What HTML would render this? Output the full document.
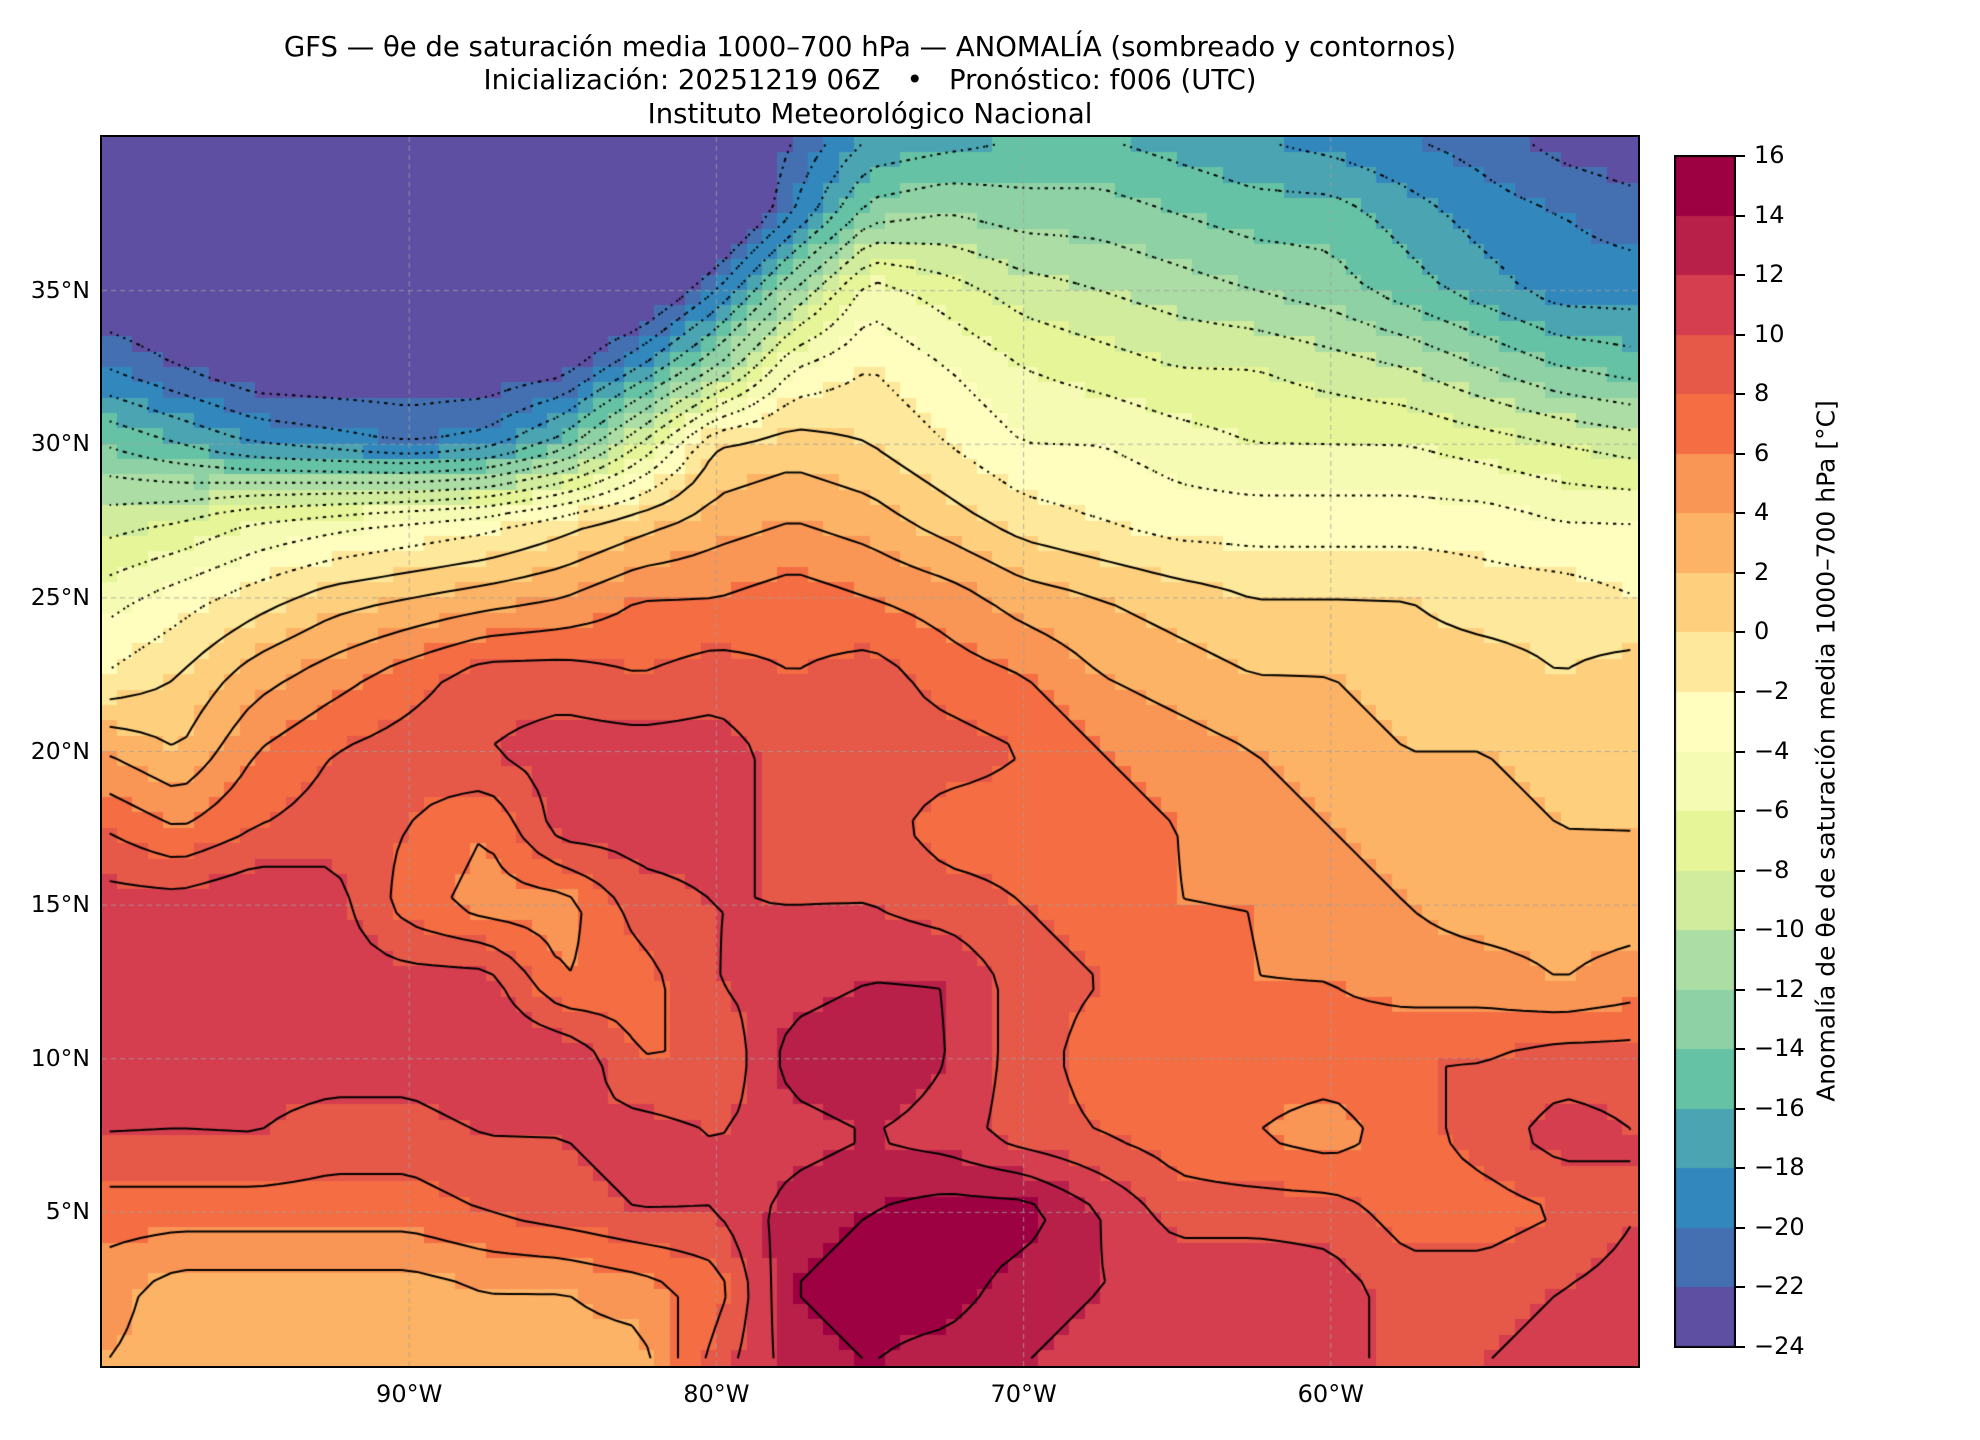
<!DOCTYPE html>
<html><head><meta charset="utf-8">
<style>
body{margin:0;background:#fff;}
#root{position:relative;width:1980px;height:1440px;background:#fff;font-family:"DejaVu Sans","Liberation Sans",sans-serif;color:#000;overflow:hidden;}
.t{position:absolute;white-space:nowrap;}
.title{left:0;width:1740px;text-align:center;font-size:27.5px;}
.yl{font-size:23.5px;text-align:right;width:84px;left:6px;}
.xl{font-size:24px;text-align:center;width:110px;top:1380px;}
.cl{font-size:24px;left:1754px;}
</style></head>
<body>
<div id="root">
<div class="t title" style="top:31px">GFS — θe de saturación media 1000–700 hPa — ANOMALÍA (sombreado y contornos)</div>
<div class="t title" style="top:64px">Inicialización: 20251219 06Z &nbsp; • &nbsp; Pronóstico: f006 (UTC)</div>
<div class="t title" style="top:98px">Instituto Meteorológico Nacional</div>
<canvas id="map" width="1536" height="1229" style="position:absolute;left:102px;top:137px;"></canvas>
<div style="position:absolute;left:101px;top:136px;width:1536px;height:1229px;border:2px solid #000;box-sizing:content-box;margin:-1px 0 0 -1px"></div>
<canvas id="cbar" width="62" height="1193" style="position:absolute;left:1674px;top:155px;"></canvas>
<div class="t" style="left:1826px;top:751px;transform:translate(-50%,-50%) rotate(-90deg);font-size:25px;">Anomalía de θe de saturación media 1000–700 hPa [°C]</div>
<div id="labels"></div>
</div>
<script>
// ---- data (2.5° grid, lat 40 -> 0 rows, lon -100 -> -50 columns) ----
const lons = [-100,-97.5,-95,-92.5,-90,-87.5,-85,-82.5,-80,-77.5,-75,-72.5,-70,-67.5,-65,-62.5,-60,-57.5,-55,-52.5,-50];
const lats = [40,37.5,35,32.5,30,27.5,25,22.5,20,17.5,15,12.5,10,7.5,5,2.5,0];
const r40 = [-27,-27,-27,-27,-27,-27,-27,-27,-27,-22,-18,-17,-16,-16,-17,-18,-19,-20,-21,-23,-24];
const r37 = [-27,-27,-27,-27,-27,-27,-27,-27,-27,-20,-13,-12,-13,-13,-14,-15,-15,-17,-19,-20,-21];
const r35 = [-24,-25,-27,-27,-27,-27,-27,-26,-20,-12,-5,-7,-9,-10,-11,-12,-13,-15,-17,-19,-19];
const r32 = [-20,-22,-24,-24,-24,-24,-23,-18,-12,-4,-2,-4,-6,-7,-8,-8,-9,-10,-12,-14,-15];
const r30 = [-14,-16,-18,-19,-20,-19,-15,-8,0,1,0,-2,-4,-4,-5,-6,-6,-6,-7,-8,-9];
const r27 = [-9,-8,-6,-5,-4,-3,-1,1,3,4,3,1,-1,-2,-3,-3,-3,-3,-3,-4,-4];
const r25 = [-5,-3,-1,1,2,3,4,6,6,7,6,5,3,2,1,0,0,0,-1,-1,-2];
const r22 = [-2,0,3,5,7,9,9,8,9,8,9,7,6,4,3,2,2,1,1,0,1];
const r20 = [4,2,6,8,9,10,11,11,11,9,9,9,8,6,5,4,3,2,2,1,0];
const r17 = [8,6,8,9,8,6,11,11,11,9,9,7,7,7,6,5,4,3,3,2,2];
const r15 = [11,11,12,11,7,5,5,9,10,10,10,9,8,7,6,6,5,4,3,3,3];
const r12 = [11,11,11,11,11,11,6,7,10,11,12,12,9,8,7,6,6,5,5,4,5];
const r10 = [11,10,11,11,11,12,12,8,8,13,14,12,9,7,7,7,7,8,8,9,9];
const r07 = [10,10,10,9,9,10,10,11,10,11,12,11,9,8,7,6,5,7,9,11,10];
const r05 = [7,7,7,7,7,8,9,10,10,13,14,15,15,12,9,9,9,7,7,8,10];
const r02 = [5,3,3,3,3,4,4,5,7,14,15,15,13,12,12,12,11,9,9,10,11];
const r00 = [4,3,3,2,2,3,3,3,9,13,14,13,12,11,12,11,10,10,10,11,12];
const grid = [r40,r37,r35,r32,r30,r27,r25,r22,r20,r17,r15,r12,r10,r07,r05,r02,r00];
const levels = [-24,-22,-20,-18,-16,-14,-12,-10,-8,-6,-4,-2,0,2,4,6,8,10,12,14,16];
const colors = ["#5e4fa2","#4470b1","#3288bd","#4ba4b1","#66c2a5","#8ed1a4","#abdda4","#d0ec9c","#e6f598","#f5fbb2","#fffebe","#fee89b","#fed07e","#fdb365","#f99555","#f46d43","#e65848","#d53e4f","#b8204a","#9e0142"];
const latTicks = [5,10,15,20,25,30,35];
const lonTicks = [-90,-80,-70,-60];

// ---- axis functions ----
const W=1536,H=1229, lon0=-100, lon1=-50, lat0=0, lat1=40;
const xOf = lon => (lon-lon0)/(lon1-lon0)*W;
const yOf = lat => (lat1-lat)/(lat1-lat0)*H;
function val(lon,lat){
  let fi=(lon-lons[0])/2.5, fj=(lats[0]-lat)/2.5;
  fi=Math.max(0,Math.min(lons.length-1.0001,fi)); fj=Math.max(0,Math.min(lats.length-1.0001,fj));
  const i=Math.floor(fi), j=Math.floor(fj), a=fi-i, b=fj-j;
  return grid[j][i]*(1-a)*(1-b)+grid[j][i+1]*a*(1-b)+grid[j+1][i]*(1-a)*b+grid[j+1][i+1]*a*b;
}
function colorOf(v){
  let k=Math.floor((v-levels[0])/2); k=Math.max(0,Math.min(colors.length-1,k)); return colors[k];
}
const ctx=document.getElementById('map').getContext('2d');
const step=0.5, nx=Math.round((lon1-lon0)/step), ny=Math.round((lat1-lat0)/step);
const F=[];
for(let j=0;j<ny;j++){F.push([]);for(let i=0;i<nx;i++){
  const lo=lon0+(i+0.5)*step, la=lat1-(j+0.5)*step; const v=val(lo,la); F[j].push(v);
  ctx.fillStyle=colorOf(v);
  const x0=Math.floor(xOf(lo-step/2)), x1=Math.ceil(xOf(lo+step/2)), y0=Math.floor(yOf(la+step/2)), y1=Math.ceil(yOf(la-step/2));
  ctx.fillRect(x0,y0,x1-x0,y1-y0);
}}
// grid lines
ctx.strokeStyle="rgba(160,160,160,0.8)";ctx.lineWidth=1;ctx.setLineDash([5,4]);
lonTicks.forEach(l=>{ctx.beginPath();ctx.moveTo(xOf(l),0);ctx.lineTo(xOf(l),H);ctx.stroke();});
latTicks.forEach(l=>{ctx.beginPath();ctx.moveTo(0,yOf(l));ctx.lineTo(W,yOf(l));ctx.stroke();});
// contours (marching squares on cell centres)
const cx=i=>xOf(lon0+(i+0.5)*step), cy=j=>yOf(lat1-(j+0.5)*step);
ctx.strokeStyle="#000";ctx.lineWidth=2;
levels.forEach(L=>{
  if(L<=-24||L>=16) return;
  ctx.setLineDash(L<0?[2,5]:[]);
  ctx.beginPath();
  for(let j=0;j<ny-1;j++)for(let i=0;i<nx-1;i++){
    const v=[F[j][i],F[j][i+1],F[j+1][i+1],F[j+1][i]];
    const p=[[cx(i),cy(j)],[cx(i+1),cy(j)],[cx(i+1),cy(j+1)],[cx(i),cy(j+1)]];
    const pts=[];
    for(let e=0;e<4;e++){const a=v[e],b=v[(e+1)%4];
      if((a<L)!==(b<L)){const t=(L-a)/(b-a);const A=p[e],B=p[(e+1)%4];pts.push([A[0]+t*(B[0]-A[0]),A[1]+t*(B[1]-A[1])]);}}
    for(let k=0;k+1<pts.length;k+=2){ctx.moveTo(pts[k][0],pts[k][1]);ctx.lineTo(pts[k+1][0],pts[k+1][1]);}
  }
  ctx.stroke();
});
// colorbar
const cb=document.getElementById('cbar').getContext('2d');
const cbH=1191, nb=colors.length;
cb.fillStyle="#000";cb.fillRect(0,0,62,1193);
colors.forEach((c,k)=>{cb.fillStyle=c;const y0=1+cbH*(nb-1-k)/nb, y1=1+cbH*(nb-k)/nb;cb.fillRect(2,Math.round(y0)+ (k==nb-1?1:0),58,Math.round(y1)-Math.round(y0)-(k==nb-1?1:0)-(k==0?1:0));});
// labels
const lab=document.getElementById('labels');
latTicks.forEach(l=>{
  const d=document.createElement('div');d.className='t yl';d.style.top=(137+yOf(l)-15)+'px';d.textContent=l+'°N';
  
  
  lab.appendChild(d);
});
lonTicks.forEach(l=>{
  const d=document.createElement('div');d.className='t xl';d.style.left=(102+xOf(l)-55)+'px';d.textContent=(-l)+'°W';
  
  
  lab.appendChild(d);
});
levels.forEach((L,k)=>{
  const y=156+cbH*(levels.length-1-k)/(levels.length-1);
  const t=document.createElement('div');t.className='t';t.style.cssText='left:1736px;width:9px;height:2px;background:#000;top:'+(y-1)+'px';
  
  
  lab.appendChild(t);
  const d=document.createElement('div');d.className='t cl';d.style.top=(y-15)+'px';d.textContent=(L<0?'−'+(-L):''+L);
  
  
  lab.appendChild(d);
});
</script>
</body></html>
